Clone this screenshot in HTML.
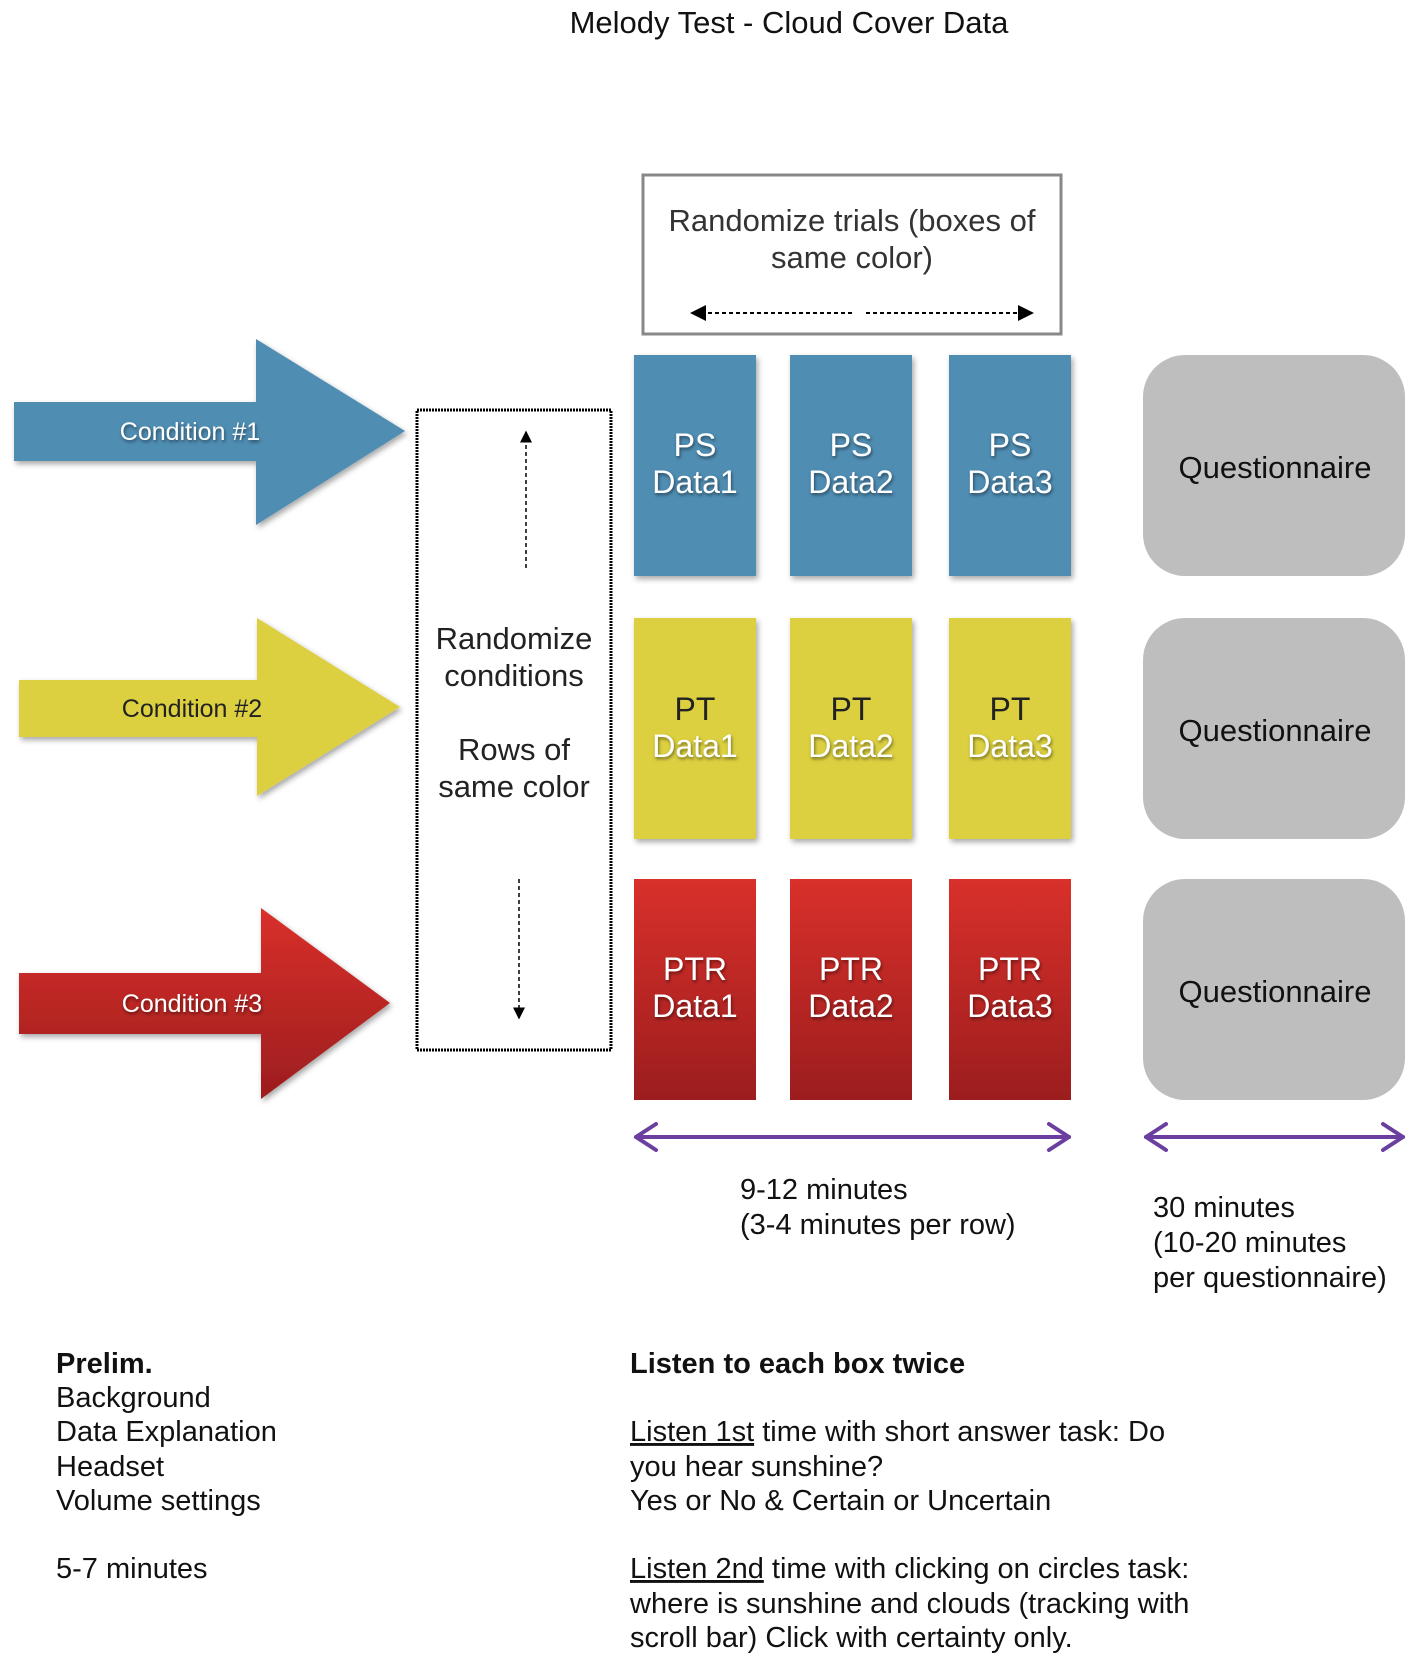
<!DOCTYPE html>
<html><head><meta charset="utf-8"><style>
html,body{margin:0;padding:0;background:#fff}
svg{display:block}
text{font-family:"Liberation Sans",Arial,sans-serif}
</style></head><body>
<svg width="1417" height="1660" viewBox="0 0 1417 1660" xmlns="http://www.w3.org/2000/svg">
<defs>
<linearGradient id="red" x1="0" y1="0" x2="0" y2="1"><stop offset="0" stop-color="#d9302a"/><stop offset="1" stop-color="#9c1d1e"/></linearGradient>
<filter id="sh" x="-10%" y="-10%" width="130%" height="130%"><feDropShadow dx="2" dy="3" stdDeviation="3" flood-color="#000" flood-opacity="0.35"/></filter>
<filter id="ts"><feDropShadow dx="1" dy="2" stdDeviation="1.5" flood-color="#000" flood-opacity="0.5"/></filter>
<marker id="ah" markerWidth="8" markerHeight="8" refX="7" refY="4" orient="auto"><path d="M0,0 L8,4 L0,8 z" fill="#000"/></marker>
</defs>

<text x="789" y="33" font-size="31" text-anchor="middle" fill="#111">Melody Test - Cloud Cover Data</text>

<!-- top box -->
<rect x="643" y="175" width="418" height="159" fill="#fff" stroke="#888" stroke-width="3"/>
<text x="852" y="231" font-size="31" text-anchor="middle" fill="#333">Randomize trials (boxes of</text>
<text x="852" y="268" font-size="31" text-anchor="middle" fill="#333">same color)</text>
<line x1="852" y1="313" x2="692" y2="313" stroke="#000" stroke-width="2" stroke-dasharray="4,3" marker-end="url(#ah)"/>
<line x1="866" y1="313" x2="1032" y2="313" stroke="#000" stroke-width="2" stroke-dasharray="4,3" marker-end="url(#ah)"/>

<!-- arrows -->
<polygon filter="url(#sh)" points="14,402 256,402 256,339 405,431 256,525 256,461 14,461" fill="#4f8db3"/>
<text x="190" y="440" font-size="25" text-anchor="middle" fill="#fff" filter="url(#ts)">Condition #1</text>
<polygon filter="url(#sh)" points="19,680 257,680 257,618 400,707 257,796 257,737 19,737" fill="#dcd041"/>
<text x="192" y="717" font-size="25" text-anchor="middle" fill="#222">Condition #2</text>
<polygon filter="url(#sh)" points="19,973 261,973 261,908 390,1003 261,1099 261,1034 19,1034" fill="url(#red)"/>
<text x="192" y="1012" font-size="25" text-anchor="middle" fill="#fff" filter="url(#ts)">Condition #3</text>

<!-- dotted box -->
<rect x="417" y="410" width="194" height="640" fill="#fff" stroke="#000" stroke-width="3" stroke-dasharray="2,1"/>
<text x="514" y="649" font-size="31" text-anchor="middle" fill="#222">Randomize</text>
<text x="514" y="686" font-size="31" text-anchor="middle" fill="#222">conditions</text>
<text x="514" y="760" font-size="31" text-anchor="middle" fill="#222">Rows of</text>
<text x="514" y="797" font-size="31" text-anchor="middle" fill="#222">same color</text>
<line x1="526" y1="568" x2="526" y2="432" stroke="#000" stroke-width="1.5" stroke-dasharray="4,3" marker-end="url(#ah)"/>
<line x1="519" y1="879" x2="519" y2="1018" stroke="#000" stroke-width="1.5" stroke-dasharray="4,3" marker-end="url(#ah)"/>

<!-- blue row -->
<g filter="url(#sh)" fill="#4f8db3">
<rect x="634" y="355" width="122" height="221"/><rect x="790" y="355" width="122" height="221"/><rect x="949" y="355" width="122" height="221"/>
</g>
<g font-size="32" text-anchor="middle" fill="#fff" filter="url(#ts)">
<text x="695" y="456">PS</text><text x="695" y="493">Data1</text>
<text x="851" y="456">PS</text><text x="851" y="493">Data2</text>
<text x="1010" y="456">PS</text><text x="1010" y="493">Data3</text>
</g>
<!-- yellow row -->
<g filter="url(#sh)" fill="#dcd041">
<rect x="634" y="618" width="122" height="221"/><rect x="790" y="618" width="122" height="221"/><rect x="949" y="618" width="122" height="221"/>
</g>
<g font-size="32" text-anchor="middle" fill="#222">
<text x="695" y="720">PT</text><text x="851" y="720">PT</text><text x="1010" y="720">PT</text>
</g>
<g font-size="32" text-anchor="middle" fill="#fff" filter="url(#ts)">
<text x="695" y="757">Data1</text><text x="851" y="757">Data2</text><text x="1010" y="757">Data3</text>
</g>
<!-- red row -->
<g fill="url(#red)">
<rect x="634" y="879" width="122" height="221"/><rect x="790" y="879" width="122" height="221"/><rect x="949" y="879" width="122" height="221"/>
</g>
<g font-size="32" text-anchor="middle" fill="#fff" filter="url(#ts)">
<text x="695" y="980">PTR</text><text x="695" y="1017">Data1</text>
<text x="851" y="980">PTR</text><text x="851" y="1017">Data2</text>
<text x="1010" y="980">PTR</text><text x="1010" y="1017">Data3</text>
</g>

<!-- questionnaires -->
<g fill="#bebebe">
<rect x="1143" y="355" width="262" height="221" rx="42"/>
<rect x="1143" y="618" width="262" height="221" rx="42"/>
<rect x="1143" y="879" width="262" height="221" rx="42"/>
</g>
<g font-size="31" text-anchor="middle" fill="#111">
<text x="1275" y="478">Questionnaire</text>
<text x="1275" y="741">Questionnaire</text>
<text x="1275" y="1002">Questionnaire</text>
</g>

<!-- purple arrows -->
<g stroke="#6b3fa0" stroke-width="4" fill="none" stroke-linecap="round" stroke-linejoin="round">
<line x1="636" y1="1137" x2="1069" y2="1137"/>
<polyline points="656,1124 636,1137 656,1150"/>
<polyline points="1049,1124 1069,1137 1049,1150"/>
<line x1="1146" y1="1137" x2="1403" y2="1137"/>
<polyline points="1166,1124 1146,1137 1166,1150"/>
<polyline points="1383,1124 1403,1137 1383,1150"/>
</g>

<g font-size="29" fill="#111">
<text x="740" y="1199">9-12 minutes</text>
<text x="740" y="1234">(3-4 minutes per row)</text>
<text x="1153" y="1217">30 minutes</text>
<text x="1153" y="1252">(10-20 minutes</text>
<text x="1153" y="1287">per questionnaire)</text>

<text x="56" y="1373" font-weight="bold">Prelim.</text>
<text x="56" y="1407">Background</text>
<text x="56" y="1441">Data Explanation</text>
<text x="56" y="1476">Headset</text>
<text x="56" y="1510">Volume settings</text>
<text x="56" y="1578">5-7 minutes</text>

<text x="630" y="1373" font-weight="bold">Listen to each box twice</text>
<text x="630" y="1441"><tspan text-decoration="underline">Listen 1st</tspan> time with short answer task: Do</text>
<text x="630" y="1476">you hear sunshine?</text>
<text x="630" y="1510">Yes or No &amp; Certain or Uncertain</text>
<text x="630" y="1578"><tspan text-decoration="underline">Listen 2nd</tspan> time with clicking on circles task:</text>
<text x="630" y="1613">where is sunshine and clouds (tracking with</text>
<text x="630" y="1647">scroll bar) Click with certainty only.</text>
</g>
</svg>
</body></html>
